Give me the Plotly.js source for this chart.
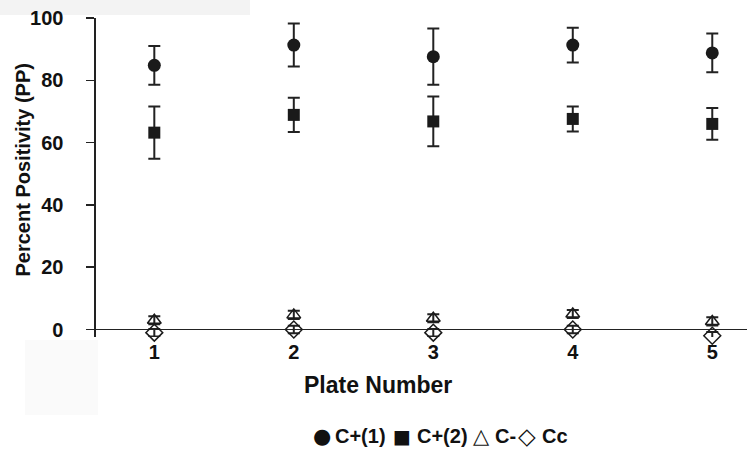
<!DOCTYPE html>
<html>
<head>
<meta charset="utf-8">
<script src="https://cdn.plot.ly/plotly-3.0.1.min.js"></script>
<style>html,body{margin:0;padding:0;background:#fff;}#chart{width:747px;height:453px;}</style>
</head>
<body>
<div id="chart"></div>
<script>
// Data
var plates = [1, 2, 3, 4, 5];
var cPos1 = [84.8, 91.3, 87.6, 91.3, 88.8];
var cPos1Err = [6.2, 6.9, 9.0, 5.6, 6.2];
var cPos2 = [63.2, 68.9, 66.8, 67.6, 66.0];
var cPos2Err = [8.4, 5.5, 8.0, 4.0, 5.1];
var cNeg = [3.0, 4.7, 3.6, 5.0, 2.6];
var cNegErr = [1.3, 1.3, 1.3, 1.3, 1.3];
var cCc = [-1.0, 0.0, -1.0, 0.0, -2.0];
var cCcErr = [1.2, 1.2, 1.2, 1.2, 1.2];
var seriesNames = ['C+(1)', 'C+(2)', 'C-', 'Cc'];
var legendGlyphs = ['\u25CF', '\u25A0', '\u25B3', '\u25C7'];
var yTicks = [0, 20, 40, 60, 80, 100];

var ink = '#1a1a1a';
var fontFam = '"Liberation Sans", Arial, sans-serif';
var fs = 20;

function px2x(p) { return (p - 96) / 651; }
function px2y(p) { return (337 - p) / 319; }

function errBar(arr) {
  return {type: 'data', array: arr, visible: true, color: '#222', thickness: 2, width: 6};
}

var traces = [
  {x: plates, y: cPos1, name: seriesNames[0], type: 'scatter', mode: 'markers',
   marker: {symbol: 'circle', size: 13, color: ink}, error_y: errBar(cPos1Err), cliponaxis: false},
  {x: plates, y: cPos2, name: seriesNames[1], type: 'scatter', mode: 'markers',
   marker: {symbol: 'square', size: 12, color: ink}, error_y: errBar(cPos2Err), cliponaxis: false},
  {x: plates, y: cNeg, name: seriesNames[2], type: 'scatter', mode: 'markers',
   marker: {symbol: 'triangle-up-open', size: 12, color: ink, line: {width: 1.5, color: ink}}, error_y: errBar(cNegErr), cliponaxis: false},
  {x: plates, y: cCc, name: seriesNames[3], type: 'scatter', mode: 'markers',
   marker: {symbol: 'diamond-open', size: 13, color: ink, line: {width: 1.5, color: ink}}, error_y: errBar(cCcErr), cliponaxis: false}
];

// Legend drawn as text entries (glyph + series name), in the reference's compact style
var glyphX = [322, 402, 482, 527];
var glyphSize = [21, 19, 21, 23];
var textX = [333, 415, 493, 540];
var legendY = px2y(436);
var legendAnn = [];
seriesNames.forEach(function (n, i) {
  legendAnn.push({text: legendGlyphs[i], xref: 'paper', yref: 'paper', x: px2x(glyphX[i]), y: legendY,
    xanchor: 'center', yanchor: 'middle', showarrow: false,
    font: {family: '"DejaVu Sans", sans-serif', size: glyphSize[i], color: '#111'}});
  legendAnn.push({text: n, xref: 'paper', yref: 'paper', x: px2x(textX[i]), y: legendY,
    xanchor: 'left', yanchor: 'middle', showarrow: false,
    font: {family: fontFam, size: fs, color: '#111', weight: 'bold'}});
});

var layout = {
  width: 747, height: 453,
  margin: {l: 96, r: 0, t: 18, b: 116, pad: 0},
  paper_bgcolor: '#fff', plot_bgcolor: 'rgba(0,0,0,0)',
  font: {family: fontFam, size: fs, color: '#111'},
  showlegend: false,
  xaxis: {
    range: [0.582, 5.249], tickmode: 'array', tickvals: plates, ticktext: plates.map(String),
    showline: false, ticks: '', showgrid: false, zeroline: false,
    ticklabelstandoff: 1,
    tickfont: {family: fontFam, size: fs, color: '#111', weight: 'bold'},
    title: {text: ''}
  },
  yaxis: {
    range: [-2.4, 100], tickmode: 'array', tickvals: yTicks, ticktext: yTicks.map(String),
    showline: true, linecolor: '#222', linewidth: 1.6, ticks: 'outside', ticklen: 8, tickwidth: 1.6, tickcolor: '#222',
    showgrid: false, zeroline: true, zerolinecolor: '#222', zerolinewidth: 1.6, ticklabelstandoff: 19,
    tickfont: {family: fontFam, size: fs, color: '#111', weight: 'bold'},
    title: {text: ''},
    automargin: false
  },
  annotations: [
    {text: 'Plate Number', xref: 'paper', yref: 'paper', x: px2x(378), y: px2y(385), xanchor: 'center', yanchor: 'middle',
     showarrow: false, font: {family: fontFam, size: 23, color: '#111', weight: 'bold'}},
    {text: 'Percent Positivity (PP)', xref: 'paper', yref: 'paper', x: px2x(22), y: px2y(170.5), xanchor: 'center', yanchor: 'middle',
     textangle: -90, showarrow: false, font: {family: fontFam, size: fs, color: '#111', weight: 'bold'}}
  ].concat(legendAnn),
  shapes: [
    {type: 'rect', xref: 'paper', yref: 'paper', x0: px2x(0), x1: px2x(250), y0: px2y(0), y1: px2y(15), fillcolor: '#f3f3f3', line: {width: 0}, layer: 'below'},
    {type: 'rect', xref: 'paper', yref: 'paper', x0: px2x(25), x1: px2x(98), y0: px2y(340), y1: px2y(415), fillcolor: '#fafafa', line: {width: 0}, layer: 'below'}
  ]
};

Plotly.newPlot('chart', traces, layout, {displayModeBar: false, staticPlot: true});
</script>
</body>
</html>
